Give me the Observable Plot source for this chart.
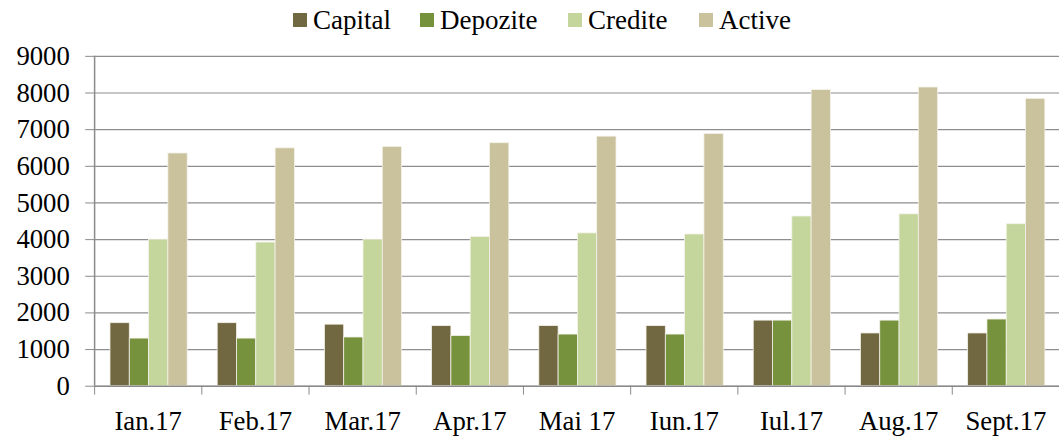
<!DOCTYPE html>
<html>
<head>
<meta charset="utf-8">
<script src="https://cdn.jsdelivr.net/npm/d3@7"></script>
<script src="https://cdn.jsdelivr.net/npm/@observablehq/plot@0.6"></script>
<style>
  html, body { margin: 0; padding: 0; background: white; }
  #wrap { width: 1059px; height: 442px; overflow: hidden; position: relative; font-family: "Liberation Serif", "Times New Roman", serif; }
  #legend { height: 40px; position: relative; }
  .item { position: absolute; top: 0; height: 40px; display: flex; align-items: center; font-size: 27px; color: #000; }
  .sw { width: 14px; height: 14px; margin-right: 6px; }
  #chart svg text { font-family: "Liberation Serif", "Times New Roman", serif; }
</style>
</head>
<body>
<div id="wrap">
  <div id="legend"></div>
  <div id="chart"></div>
</div>
<script>
const months = ["Ian.17","Feb.17","Mar.17","Apr.17","Mai 17","Iun.17","Iul.17","Aug.17","Sept.17"];
const seriesNames = ["Capital","Depozite","Credite","Active"];
const colors = ["#716841","#77923c","#c4d69b","#c9c29c"];
const capital  = [1720,1720,1680,1640,1640,1640,1790,1440,1440];
const depozite = [1300,1300,1330,1370,1410,1410,1790,1790,1820];
const credite  = [4000,3920,4000,4070,4170,4140,4630,4690,4420];
const active   = [6350,6490,6530,6630,6810,6880,8080,8150,7840];
const yTicks = [0,1000,2000,3000,4000,5000,6000,7000,8000,9000];

const seriesValues = [capital, depozite, credite, active];
const rows = months.flatMap((m, i) => seriesNames.map((s, j) => ({i, m, s, j, v: seriesValues[j][i]})));

const w = 0.18, pad = 0.148;
const fontFam = "'Liberation Serif', 'Times New Roman', serif";

// legend
const legendLeft = [293, 420, 568, 699];
const legend = document.getElementById("legend");
seriesNames.forEach((s, j) => {
  const it = document.createElement("div");
  it.className = "item";
  it.style.left = legendLeft[j] + "px";
  it.innerHTML = `<span class="sw" style="background:${colors[j]}"></span><span>${s}</span>`;
  legend.appendChild(it);
});

const plot = Plot.plot({
  width: 1069,
  height: 402,
  marginLeft: 95,
  marginRight: 0,
  marginTop: 16,
  marginBottom: 53,
  style: {fontFamily: fontFam, fontSize: "27px", color: "#000", background: "white"},
  x: {domain: [0, 9], axis: null},
  y: {domain: [0, 9000], axis: null},
  color: {domain: seriesNames, range: colors},
  marks: [
    Plot.gridY(yTicks, {stroke: "#8e8e8e", strokeOpacity: 1, strokeWidth: 1.2}),
    Plot.rectY(rows, {
      x1: d => d.i + pad + d.j * w,
      x2: d => d.i + pad + (d.j + 1) * w,
      y1: 0,
      y2: "v",
      fill: "s",
      stroke: "#f4f2ea",
      strokeWidth: 0.8
    }),
    Plot.ruleX([0], {y1: 0, y2: 9000, stroke: "#8a8a8a", strokeWidth: 1.5}),
    Plot.ruleY([0], {stroke: "#8a8a8a", strokeWidth: 1.5}),
    Plot.axisY({ticks: yTicks, label: null, tickSize: 9, tickPadding: 16, stroke: "#8a8a8a", fill: "#000", fontSize: 27, fontFamily: fontFam, tickFormat: d => String(d)}),
    Plot.axisX({ticks: d3.range(10), label: null, tickSize: 9, tickFormat: () => "", stroke: "#8a8a8a"}),
    Plot.axisX({ticks: d3.range(9).map(i => i + 0.5), label: null, tickSize: 0, tickPadding: 25, fill: "#000", fontSize: 27, fontFamily: fontFam, tickFormat: d => months[Math.floor(d)]})
  ]
});
document.getElementById("chart").appendChild(plot);
</script>
</body>
</html>
